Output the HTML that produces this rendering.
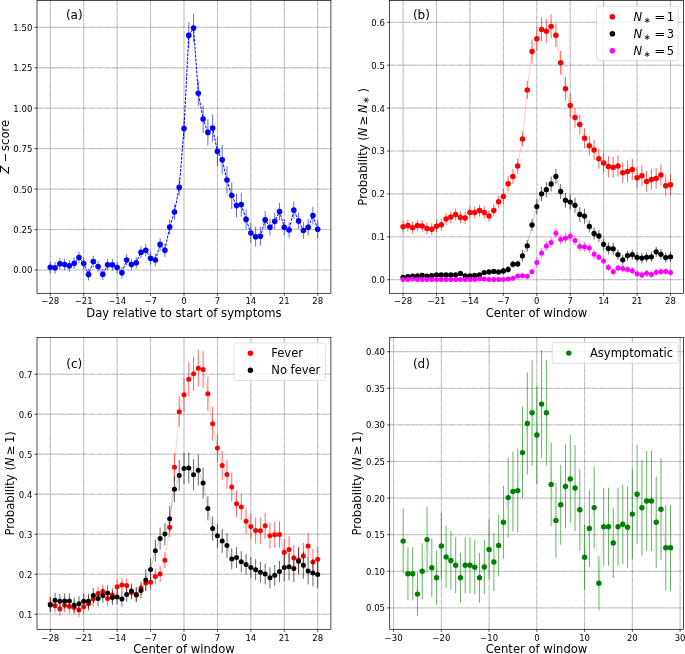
<!DOCTYPE html>
<html><head><meta charset="utf-8"><title>Figure</title>
<style>html,body{margin:0;padding:0;background:#fff}svg{display:block}</style></head>
<body>
<svg width="685" height="654" viewBox="0 0 685 654" font-family="'DejaVu Sans','Liberation Sans',sans-serif" fill="#000">
<rect width="685" height="654" fill="#fff"/>
<defs>
<clipPath id="ca"><rect x="37.0" y="0.4" width="293.9" height="292.90000000000003"/></clipPath>
<clipPath id="cb"><rect x="389.6" y="0.4" width="293.79999999999995" height="292.90000000000003"/></clipPath>
<clipPath id="cc"><rect x="37.0" y="337.4" width="293.9" height="291.9"/></clipPath>
<clipPath id="cd"><rect x="389.7" y="337.4" width="293.7" height="291.9"/></clipPath>
</defs>
<path d="M50.30 0.40V293.30M83.72 0.40V293.30M117.15 0.40V293.30M150.57 0.40V293.30M184.00 0.40V293.30M217.43 0.40V293.30M250.85 0.40V293.30M284.27 0.40V293.30M317.70 0.40V293.30M37.00 270.00H330.90M37.00 229.55H330.90M37.00 189.10H330.90M37.00 148.65H330.90M37.00 108.20H330.90M37.00 67.75H330.90M37.00 27.30H330.90" stroke="#606060" stroke-width="0.5" stroke-opacity="0.62" fill="none"/>
<path d="M50.30 0.40V293.30M83.72 0.40V293.30M117.15 0.40V293.30M150.57 0.40V293.30M184.00 0.40V293.30M217.43 0.40V293.30M250.85 0.40V293.30M284.27 0.40V293.30M317.70 0.40V293.30M37.00 270.00H330.90M37.00 229.55H330.90M37.00 189.10H330.90M37.00 148.65H330.90M37.00 108.20H330.90M37.00 67.75H330.90M37.00 27.30H330.90" stroke="#606060" stroke-width="0.5" stroke-opacity="0.38" stroke-dasharray="5.4 2.1" fill="none"/>
<g clip-path="url(#ca)">
<path d="M50.30 261.50V273.10M55.07 262.00V273.60M59.85 257.90V269.50M64.62 258.70V270.30M69.40 260.00V271.60M74.17 257.40V269.00M78.95 251.70V263.30M83.72 257.70V269.30M88.50 268.80V280.40M93.27 255.70V267.30M98.05 260.70V272.30M102.82 268.50V280.10M107.60 259.00V270.60M112.38 259.00V270.60M117.15 261.70V273.30M121.92 267.00V278.60M126.70 254.20V265.80M131.47 258.70V270.30M136.25 256.90V268.50M141.03 246.40V258.00M145.80 243.90V256.50M150.57 251.90V264.50M155.35 253.70V266.30M160.12 238.10V250.70M164.90 243.40V257.00M169.68 219.60V234.60M174.45 204.20V219.80M179.22 179.10V195.70M184.00 119.10V138.10M188.78 22.10V48.70M193.55 13.80V42.40M198.32 80.70V105.70M203.10 105.30V132.90M207.88 119.20V145.60M212.65 114.30V141.90M217.43 136.70V166.10M222.20 145.10V174.30M226.97 166.20V193.80M231.75 182.10V208.90M236.53 193.70V217.50M241.30 192.70V216.50M246.07 209.10V229.70M250.85 223.00V243.00M255.62 226.70V246.70M260.40 226.70V245.70M265.18 211.10V228.70M269.95 219.00V235.40M274.73 212.80V229.60M279.50 202.80V220.40M284.27 219.20V235.20M289.05 222.20V237.80M293.82 201.60V218.60M298.60 212.70V229.10M303.38 222.10V238.90M308.15 219.00V235.40M312.93 206.80V224.40M317.70 220.20V238.20" stroke="#0000ff" stroke-width="1" stroke-opacity="0.6" fill="none"/>
<polyline points="50.30,267.30 55.07,267.80 59.85,263.70 64.62,264.50 69.40,265.80 74.17,263.20 78.95,257.50 83.72,263.50 88.50,274.60 93.27,261.50 98.05,266.50 102.82,274.30 107.60,264.80 112.38,264.80 117.15,267.50 121.92,272.80 126.70,260.00 131.47,264.50 136.25,262.70 141.03,252.20 145.80,250.20 150.57,258.20 155.35,260.00 160.12,244.40 164.90,250.20 169.68,227.10 174.45,212.00 179.22,187.40 184.00,128.60 188.78,35.40 193.55,28.10 198.32,93.20 203.10,119.10 207.88,132.40 212.65,128.10 217.43,151.40 222.20,159.70 226.97,180.00 231.75,195.50 236.53,205.60 241.30,204.60 246.07,219.40 250.85,233.00 255.62,236.70 260.40,236.20 265.18,219.90 269.95,227.20 274.73,221.20 279.50,211.60 284.27,227.20 289.05,230.00 293.82,210.10 298.60,220.90 303.38,230.50 308.15,227.20 312.93,215.60 317.70,229.20" stroke="#0000ff" stroke-width="1.0" stroke-dasharray="2.8 1.2" fill="none"/>
<g fill="#0000ff">
<circle cx="50.30" cy="267.30" r="2.8"/>
<circle cx="55.07" cy="267.80" r="2.8"/>
<circle cx="59.85" cy="263.70" r="2.8"/>
<circle cx="64.62" cy="264.50" r="2.8"/>
<circle cx="69.40" cy="265.80" r="2.8"/>
<circle cx="74.17" cy="263.20" r="2.8"/>
<circle cx="78.95" cy="257.50" r="2.8"/>
<circle cx="83.72" cy="263.50" r="2.8"/>
<circle cx="88.50" cy="274.60" r="2.8"/>
<circle cx="93.27" cy="261.50" r="2.8"/>
<circle cx="98.05" cy="266.50" r="2.8"/>
<circle cx="102.82" cy="274.30" r="2.8"/>
<circle cx="107.60" cy="264.80" r="2.8"/>
<circle cx="112.38" cy="264.80" r="2.8"/>
<circle cx="117.15" cy="267.50" r="2.8"/>
<circle cx="121.92" cy="272.80" r="2.8"/>
<circle cx="126.70" cy="260.00" r="2.8"/>
<circle cx="131.47" cy="264.50" r="2.8"/>
<circle cx="136.25" cy="262.70" r="2.8"/>
<circle cx="141.03" cy="252.20" r="2.8"/>
<circle cx="145.80" cy="250.20" r="2.8"/>
<circle cx="150.57" cy="258.20" r="2.8"/>
<circle cx="155.35" cy="260.00" r="2.8"/>
<circle cx="160.12" cy="244.40" r="2.8"/>
<circle cx="164.90" cy="250.20" r="2.8"/>
<circle cx="169.68" cy="227.10" r="2.8"/>
<circle cx="174.45" cy="212.00" r="2.8"/>
<circle cx="179.22" cy="187.40" r="2.8"/>
<circle cx="184.00" cy="128.60" r="2.8"/>
<circle cx="188.78" cy="35.40" r="2.8"/>
<circle cx="193.55" cy="28.10" r="2.8"/>
<circle cx="198.32" cy="93.20" r="2.8"/>
<circle cx="203.10" cy="119.10" r="2.8"/>
<circle cx="207.88" cy="132.40" r="2.8"/>
<circle cx="212.65" cy="128.10" r="2.8"/>
<circle cx="217.43" cy="151.40" r="2.8"/>
<circle cx="222.20" cy="159.70" r="2.8"/>
<circle cx="226.97" cy="180.00" r="2.8"/>
<circle cx="231.75" cy="195.50" r="2.8"/>
<circle cx="236.53" cy="205.60" r="2.8"/>
<circle cx="241.30" cy="204.60" r="2.8"/>
<circle cx="246.07" cy="219.40" r="2.8"/>
<circle cx="250.85" cy="233.00" r="2.8"/>
<circle cx="255.62" cy="236.70" r="2.8"/>
<circle cx="260.40" cy="236.20" r="2.8"/>
<circle cx="265.18" cy="219.90" r="2.8"/>
<circle cx="269.95" cy="227.20" r="2.8"/>
<circle cx="274.73" cy="221.20" r="2.8"/>
<circle cx="279.50" cy="211.60" r="2.8"/>
<circle cx="284.27" cy="227.20" r="2.8"/>
<circle cx="289.05" cy="230.00" r="2.8"/>
<circle cx="293.82" cy="210.10" r="2.8"/>
<circle cx="298.60" cy="220.90" r="2.8"/>
<circle cx="303.38" cy="230.50" r="2.8"/>
<circle cx="308.15" cy="227.20" r="2.8"/>
<circle cx="312.93" cy="215.60" r="2.8"/>
<circle cx="317.70" cy="229.20" r="2.8"/>
</g></g>
<path d="M50.30 293.30v2.5M83.72 293.30v2.5M117.15 293.30v2.5M150.57 293.30v2.5M184.00 293.30v2.5M217.43 293.30v2.5M250.85 293.30v2.5M284.27 293.30v2.5M317.70 293.30v2.5M37.00 270.00h-2.5M37.00 229.55h-2.5M37.00 189.10h-2.5M37.00 148.65h-2.5M37.00 108.20h-2.5M37.00 67.75h-2.5M37.00 27.30h-2.5" stroke="#000" stroke-width="0.7" fill="none"/>
<rect x="37.00" y="0.40" width="293.90" height="292.90" stroke="#000" stroke-width="0.7" fill="none"/>
<g font-size="8.5" text-anchor="middle">
<text x="50.30" y="304.10">−28</text>
<text x="83.72" y="304.10">−21</text>
<text x="117.15" y="304.10">−14</text>
<text x="150.57" y="304.10">−7</text>
<text x="184.00" y="304.10">0</text>
<text x="217.43" y="304.10">7</text>
<text x="250.85" y="304.10">14</text>
<text x="284.27" y="304.10">21</text>
<text x="317.70" y="304.10">28</text>
</g>
<g font-size="8.5" text-anchor="end">
<text x="32.30" y="273.40">0.00</text>
<text x="32.30" y="232.95">0.25</text>
<text x="32.30" y="192.50">0.50</text>
<text x="32.30" y="152.05">0.75</text>
<text x="32.30" y="111.60">1.00</text>
<text x="32.30" y="71.15">1.25</text>
<text x="32.30" y="30.70">1.50</text>
</g>
<text x="183.95" y="316.90" font-size="11.6" text-anchor="middle">Day relative to start of symptoms</text>
<text transform="translate(9.30 146.85) rotate(-90)" font-size="11.6" text-anchor="middle"><tspan font-style="italic">Z</tspan> −<tspan dx="-2.2"> score</tspan></text>
<text x="74.30" y="19.30" font-size="12" text-anchor="middle">(a)</text>
<path d="M403.10 0.40V293.30M436.52 0.40V293.30M469.95 0.40V293.30M503.37 0.40V293.30M536.80 0.40V293.30M570.22 0.40V293.30M603.65 0.40V293.30M637.07 0.40V293.30M670.50 0.40V293.30M389.60 279.70H683.40M389.60 236.80H683.40M389.60 193.90H683.40M389.60 151.00H683.40M389.60 108.10H683.40M389.60 65.20H683.40M389.60 22.30H683.40" stroke="#606060" stroke-width="0.5" stroke-opacity="0.62" fill="none"/>
<path d="M403.10 0.40V293.30M436.52 0.40V293.30M469.95 0.40V293.30M503.37 0.40V293.30M536.80 0.40V293.30M570.22 0.40V293.30M603.65 0.40V293.30M637.07 0.40V293.30M670.50 0.40V293.30M389.60 279.70H683.40M389.60 236.80H683.40M389.60 193.90H683.40M389.60 151.00H683.40M389.60 108.10H683.40M389.60 65.20H683.40M389.60 22.30H683.40" stroke="#606060" stroke-width="0.5" stroke-opacity="0.38" stroke-dasharray="5.4 2.1" fill="none"/>
<g clip-path="url(#cb)">
<path d="M403.10 220.70V232.70M407.87 219.40V231.40M412.65 221.70V233.70M417.42 219.40V231.40M422.20 219.90V231.90M426.97 222.40V234.40M431.75 223.20V235.20M436.52 220.20V232.20M441.30 218.70V230.70M446.07 213.10V225.10M450.85 211.10V223.10M455.62 208.40V220.40M460.40 211.40V223.40M465.17 211.90V223.90M469.95 206.60V218.60M474.72 206.60V218.60M479.50 204.60V216.60M484.27 206.40V218.40M489.05 210.10V222.10M493.82 204.40V216.40M498.60 195.80V207.80M503.37 189.00V204.00M508.15 176.20V191.20M512.92 168.90V183.90M517.70 158.40V173.40M522.47 131.40V146.40M527.25 80.90V98.90M532.02 39.50V63.50M536.80 26.70V50.70M541.57 17.60V41.60M546.35 19.20V43.20M551.12 14.40V38.40M555.90 23.20V47.20M560.67 50.80V74.80M565.45 76.70V100.70M570.22 93.50V117.50M575.00 107.60V127.60M579.77 114.40V134.40M584.55 128.20V148.20M589.32 135.70V155.70M594.10 140.00V160.00M598.88 148.80V168.80M603.65 153.10V173.10M608.42 156.10V177.10M613.20 157.10V178.10M617.97 155.40V176.40M622.75 162.20V183.20M627.52 160.90V181.90M632.30 158.90V179.90M637.07 167.20V188.20M641.85 165.20V186.20M646.62 171.00V192.00M651.40 168.90V189.90M656.17 167.90V188.90M660.95 164.40V185.40M665.72 175.20V196.20M670.50 174.20V195.20" stroke="#ff0000" stroke-width="0.65" stroke-opacity="0.95" fill="none"/>
<polyline points="403.10,226.70 407.87,225.40 412.65,227.70 417.42,225.40 422.20,225.90 426.97,228.40 431.75,229.20 436.52,226.20 441.30,224.70 446.07,219.10 450.85,217.10 455.62,214.40 460.40,217.40 465.17,217.90 469.95,212.60 474.72,212.60 479.50,210.60 484.27,212.40 489.05,216.10 493.82,210.40 498.60,201.80 503.37,196.50 508.15,183.70 512.92,176.40 517.70,165.90 522.47,138.90 527.25,89.90 532.02,51.50 536.80,38.70 541.57,29.60 546.35,31.20 551.12,26.40 555.90,35.20 560.67,62.80 565.45,88.70 570.22,105.50 575.00,117.60 579.77,124.40 584.55,138.20 589.32,145.70 594.10,150.00 598.88,158.80 603.65,163.10 608.42,166.60 613.20,167.60 617.97,165.90 622.75,172.70 627.52,171.40 632.30,169.40 637.07,177.70 641.85,175.70 646.62,181.50 651.40,179.40 656.17,178.40 660.95,174.90 665.72,185.70 670.50,184.70" stroke="#ff0000" stroke-width="0.3" stroke-opacity="0.7" fill="none"/>
<g fill="#ff0000">
<circle cx="403.10" cy="226.70" r="2.75"/>
<circle cx="407.87" cy="225.40" r="2.75"/>
<circle cx="412.65" cy="227.70" r="2.75"/>
<circle cx="417.42" cy="225.40" r="2.75"/>
<circle cx="422.20" cy="225.90" r="2.75"/>
<circle cx="426.97" cy="228.40" r="2.75"/>
<circle cx="431.75" cy="229.20" r="2.75"/>
<circle cx="436.52" cy="226.20" r="2.75"/>
<circle cx="441.30" cy="224.70" r="2.75"/>
<circle cx="446.07" cy="219.10" r="2.75"/>
<circle cx="450.85" cy="217.10" r="2.75"/>
<circle cx="455.62" cy="214.40" r="2.75"/>
<circle cx="460.40" cy="217.40" r="2.75"/>
<circle cx="465.17" cy="217.90" r="2.75"/>
<circle cx="469.95" cy="212.60" r="2.75"/>
<circle cx="474.72" cy="212.60" r="2.75"/>
<circle cx="479.50" cy="210.60" r="2.75"/>
<circle cx="484.27" cy="212.40" r="2.75"/>
<circle cx="489.05" cy="216.10" r="2.75"/>
<circle cx="493.82" cy="210.40" r="2.75"/>
<circle cx="498.60" cy="201.80" r="2.75"/>
<circle cx="503.37" cy="196.50" r="2.75"/>
<circle cx="508.15" cy="183.70" r="2.75"/>
<circle cx="512.92" cy="176.40" r="2.75"/>
<circle cx="517.70" cy="165.90" r="2.75"/>
<circle cx="522.47" cy="138.90" r="2.75"/>
<circle cx="527.25" cy="89.90" r="2.75"/>
<circle cx="532.02" cy="51.50" r="2.75"/>
<circle cx="536.80" cy="38.70" r="2.75"/>
<circle cx="541.57" cy="29.60" r="2.75"/>
<circle cx="546.35" cy="31.20" r="2.75"/>
<circle cx="551.12" cy="26.40" r="2.75"/>
<circle cx="555.90" cy="35.20" r="2.75"/>
<circle cx="560.67" cy="62.80" r="2.75"/>
<circle cx="565.45" cy="88.70" r="2.75"/>
<circle cx="570.22" cy="105.50" r="2.75"/>
<circle cx="575.00" cy="117.60" r="2.75"/>
<circle cx="579.77" cy="124.40" r="2.75"/>
<circle cx="584.55" cy="138.20" r="2.75"/>
<circle cx="589.32" cy="145.70" r="2.75"/>
<circle cx="594.10" cy="150.00" r="2.75"/>
<circle cx="598.88" cy="158.80" r="2.75"/>
<circle cx="603.65" cy="163.10" r="2.75"/>
<circle cx="608.42" cy="166.60" r="2.75"/>
<circle cx="613.20" cy="167.60" r="2.75"/>
<circle cx="617.97" cy="165.90" r="2.75"/>
<circle cx="622.75" cy="172.70" r="2.75"/>
<circle cx="627.52" cy="171.40" r="2.75"/>
<circle cx="632.30" cy="169.40" r="2.75"/>
<circle cx="637.07" cy="177.70" r="2.75"/>
<circle cx="641.85" cy="175.70" r="2.75"/>
<circle cx="646.62" cy="181.50" r="2.75"/>
<circle cx="651.40" cy="179.40" r="2.75"/>
<circle cx="656.17" cy="178.40" r="2.75"/>
<circle cx="660.95" cy="174.90" r="2.75"/>
<circle cx="665.72" cy="185.70" r="2.75"/>
<circle cx="670.50" cy="184.70" r="2.75"/>
</g></g>
<g clip-path="url(#cb)">
<path d="M403.10 275.30V279.30M407.87 274.60V278.60M412.65 274.10V278.10M417.42 273.90V277.90M422.20 273.40V277.40M426.97 274.10V278.10M431.75 273.70V277.70M436.52 273.00V277.00M441.30 273.00V277.00M446.07 273.00V277.00M450.85 273.00V277.00M455.62 272.80V276.80M460.40 271.40V275.40M465.17 273.90V277.90M469.95 273.90V277.90M474.72 273.50V277.50M479.50 273.00V277.00M484.27 270.60V274.60M489.05 270.00V274.00M493.82 269.50V273.50M498.60 270.00V274.00M503.37 267.50V274.50M508.15 265.90V272.90M512.92 260.70V267.70M517.70 260.40V267.40M522.47 249.80V261.80M527.25 239.80V251.80M532.02 218.90V230.90M536.80 199.10V214.10M541.57 186.30V201.30M546.35 182.20V197.20M551.12 176.50V191.50M555.90 168.90V183.90M560.67 184.00V199.00M565.45 192.80V207.80M570.22 194.60V209.60M575.00 197.80V212.80M579.77 206.90V221.90M584.55 208.60V223.60M589.32 220.40V232.40M594.10 227.50V239.50M598.88 230.00V242.00M603.65 238.30V250.30M608.42 242.50V254.50M613.20 242.80V254.80M617.97 249.60V259.60M622.75 254.80V264.80M627.52 250.60V260.60M632.30 249.60V259.60M637.07 252.30V262.30M641.85 253.10V263.10M646.62 252.30V262.30M651.40 251.80V261.80M656.17 246.80V256.80M660.95 249.30V259.30M665.72 252.60V262.60M670.50 251.80V261.80" stroke="#000000" stroke-width="0.65" stroke-opacity="0.95" fill="none"/>
<polyline points="403.10,277.30 407.87,276.60 412.65,276.10 417.42,275.90 422.20,275.40 426.97,276.10 431.75,275.70 436.52,275.00 441.30,275.00 446.07,275.00 450.85,275.00 455.62,274.80 460.40,273.40 465.17,275.90 469.95,275.90 474.72,275.50 479.50,275.00 484.27,272.60 489.05,272.00 493.82,271.50 498.60,272.00 503.37,271.00 508.15,269.40 512.92,264.20 517.70,263.90 522.47,255.80 527.25,245.80 532.02,224.90 536.80,206.60 541.57,193.80 546.35,189.70 551.12,184.00 555.90,176.40 560.67,191.50 565.45,200.30 570.22,202.10 575.00,205.30 579.77,214.40 584.55,216.10 589.32,226.40 594.10,233.50 598.88,236.00 603.65,244.30 608.42,248.50 613.20,248.80 617.97,254.60 622.75,259.80 627.52,255.60 632.30,254.60 637.07,257.30 641.85,258.10 646.62,257.30 651.40,256.80 656.17,251.80 660.95,254.30 665.72,257.60 670.50,256.80" stroke="#000000" stroke-width="0.3" stroke-opacity="0.7" fill="none"/>
<g fill="#000000">
<circle cx="403.10" cy="277.30" r="2.65"/>
<circle cx="407.87" cy="276.60" r="2.65"/>
<circle cx="412.65" cy="276.10" r="2.65"/>
<circle cx="417.42" cy="275.90" r="2.65"/>
<circle cx="422.20" cy="275.40" r="2.65"/>
<circle cx="426.97" cy="276.10" r="2.65"/>
<circle cx="431.75" cy="275.70" r="2.65"/>
<circle cx="436.52" cy="275.00" r="2.65"/>
<circle cx="441.30" cy="275.00" r="2.65"/>
<circle cx="446.07" cy="275.00" r="2.65"/>
<circle cx="450.85" cy="275.00" r="2.65"/>
<circle cx="455.62" cy="274.80" r="2.65"/>
<circle cx="460.40" cy="273.40" r="2.65"/>
<circle cx="465.17" cy="275.90" r="2.65"/>
<circle cx="469.95" cy="275.90" r="2.65"/>
<circle cx="474.72" cy="275.50" r="2.65"/>
<circle cx="479.50" cy="275.00" r="2.65"/>
<circle cx="484.27" cy="272.60" r="2.65"/>
<circle cx="489.05" cy="272.00" r="2.65"/>
<circle cx="493.82" cy="271.50" r="2.65"/>
<circle cx="498.60" cy="272.00" r="2.65"/>
<circle cx="503.37" cy="271.00" r="2.65"/>
<circle cx="508.15" cy="269.40" r="2.65"/>
<circle cx="512.92" cy="264.20" r="2.65"/>
<circle cx="517.70" cy="263.90" r="2.65"/>
<circle cx="522.47" cy="255.80" r="2.65"/>
<circle cx="527.25" cy="245.80" r="2.65"/>
<circle cx="532.02" cy="224.90" r="2.65"/>
<circle cx="536.80" cy="206.60" r="2.65"/>
<circle cx="541.57" cy="193.80" r="2.65"/>
<circle cx="546.35" cy="189.70" r="2.65"/>
<circle cx="551.12" cy="184.00" r="2.65"/>
<circle cx="555.90" cy="176.40" r="2.65"/>
<circle cx="560.67" cy="191.50" r="2.65"/>
<circle cx="565.45" cy="200.30" r="2.65"/>
<circle cx="570.22" cy="202.10" r="2.65"/>
<circle cx="575.00" cy="205.30" r="2.65"/>
<circle cx="579.77" cy="214.40" r="2.65"/>
<circle cx="584.55" cy="216.10" r="2.65"/>
<circle cx="589.32" cy="226.40" r="2.65"/>
<circle cx="594.10" cy="233.50" r="2.65"/>
<circle cx="598.88" cy="236.00" r="2.65"/>
<circle cx="603.65" cy="244.30" r="2.65"/>
<circle cx="608.42" cy="248.50" r="2.65"/>
<circle cx="613.20" cy="248.80" r="2.65"/>
<circle cx="617.97" cy="254.60" r="2.65"/>
<circle cx="622.75" cy="259.80" r="2.65"/>
<circle cx="627.52" cy="255.60" r="2.65"/>
<circle cx="632.30" cy="254.60" r="2.65"/>
<circle cx="637.07" cy="257.30" r="2.65"/>
<circle cx="641.85" cy="258.10" r="2.65"/>
<circle cx="646.62" cy="257.30" r="2.65"/>
<circle cx="651.40" cy="256.80" r="2.65"/>
<circle cx="656.17" cy="251.80" r="2.65"/>
<circle cx="660.95" cy="254.30" r="2.65"/>
<circle cx="665.72" cy="257.60" r="2.65"/>
<circle cx="670.50" cy="256.80" r="2.65"/>
</g></g>
<g clip-path="url(#cb)">
<path d="M403.10 278.40V280.80M407.87 278.40V280.80M412.65 277.90V280.30M417.42 278.40V280.80M422.20 278.40V280.80M426.97 278.40V280.80M431.75 278.40V280.80M436.52 278.40V280.80M441.30 278.40V280.80M446.07 278.40V280.80M450.85 278.40V280.80M455.62 278.40V280.80M460.40 278.40V280.80M465.17 278.40V280.80M469.95 278.40V280.80M474.72 278.20V280.60M479.50 277.50V279.90M484.27 277.80V280.20M489.05 278.40V280.80M493.82 278.40V280.80M498.60 278.40V280.80M503.37 278.40V280.80M508.15 277.80V280.20M512.92 275.70V280.70M517.70 273.40V278.40M522.47 273.20V278.20M527.25 273.70V278.70M532.02 269.20V274.20M536.80 257.60V267.60M541.57 248.10V258.10M546.35 241.00V251.00M551.12 237.50V247.50M555.90 228.20V238.20M560.67 234.50V244.50M565.45 233.20V243.20M570.22 231.20V241.20M575.00 235.50V245.50M579.77 241.50V251.50M584.55 241.80V251.80M589.32 243.00V253.00M594.10 249.30V259.30M598.88 253.80V260.80M603.65 257.40V264.40M608.42 263.90V270.90M613.20 268.20V275.20M617.97 264.60V271.60M622.75 264.90V271.90M627.52 266.10V273.10M632.30 267.20V274.20M637.07 270.20V277.20M641.85 271.40V278.40M646.62 269.70V276.70M651.40 270.90V277.90M656.17 268.70V275.70M660.95 268.20V275.20M665.72 267.90V274.90M670.50 268.90V275.90" stroke="#ff00ff" stroke-width="0.65" stroke-opacity="0.95" fill="none"/>
<polyline points="403.10,279.60 407.87,279.60 412.65,279.10 417.42,279.60 422.20,279.60 426.97,279.60 431.75,279.60 436.52,279.60 441.30,279.60 446.07,279.60 450.85,279.60 455.62,279.60 460.40,279.60 465.17,279.60 469.95,279.60 474.72,279.40 479.50,278.70 484.27,279.00 489.05,279.60 493.82,279.60 498.60,279.60 503.37,279.60 508.15,279.00 512.92,278.20 517.70,275.90 522.47,275.70 527.25,276.20 532.02,271.70 536.80,262.60 541.57,253.10 546.35,246.00 551.12,242.50 555.90,233.20 560.67,239.50 565.45,238.20 570.22,236.20 575.00,240.50 579.77,246.50 584.55,246.80 589.32,248.00 594.10,254.30 598.88,257.30 603.65,260.90 608.42,267.40 613.20,271.70 617.97,268.10 622.75,268.40 627.52,269.60 632.30,270.70 637.07,273.70 641.85,274.90 646.62,273.20 651.40,274.40 656.17,272.20 660.95,271.70 665.72,271.40 670.50,272.40" stroke="#ff00ff" stroke-width="0.3" stroke-opacity="0.7" fill="none"/>
<g fill="#ff00ff">
<circle cx="403.10" cy="279.60" r="2.5"/>
<circle cx="407.87" cy="279.60" r="2.5"/>
<circle cx="412.65" cy="279.10" r="2.5"/>
<circle cx="417.42" cy="279.60" r="2.5"/>
<circle cx="422.20" cy="279.60" r="2.5"/>
<circle cx="426.97" cy="279.60" r="2.5"/>
<circle cx="431.75" cy="279.60" r="2.5"/>
<circle cx="436.52" cy="279.60" r="2.5"/>
<circle cx="441.30" cy="279.60" r="2.5"/>
<circle cx="446.07" cy="279.60" r="2.5"/>
<circle cx="450.85" cy="279.60" r="2.5"/>
<circle cx="455.62" cy="279.60" r="2.5"/>
<circle cx="460.40" cy="279.60" r="2.5"/>
<circle cx="465.17" cy="279.60" r="2.5"/>
<circle cx="469.95" cy="279.60" r="2.5"/>
<circle cx="474.72" cy="279.40" r="2.5"/>
<circle cx="479.50" cy="278.70" r="2.5"/>
<circle cx="484.27" cy="279.00" r="2.5"/>
<circle cx="489.05" cy="279.60" r="2.5"/>
<circle cx="493.82" cy="279.60" r="2.5"/>
<circle cx="498.60" cy="279.60" r="2.5"/>
<circle cx="503.37" cy="279.60" r="2.5"/>
<circle cx="508.15" cy="279.00" r="2.5"/>
<circle cx="512.92" cy="278.20" r="2.5"/>
<circle cx="517.70" cy="275.90" r="2.5"/>
<circle cx="522.47" cy="275.70" r="2.5"/>
<circle cx="527.25" cy="276.20" r="2.5"/>
<circle cx="532.02" cy="271.70" r="2.5"/>
<circle cx="536.80" cy="262.60" r="2.5"/>
<circle cx="541.57" cy="253.10" r="2.5"/>
<circle cx="546.35" cy="246.00" r="2.5"/>
<circle cx="551.12" cy="242.50" r="2.5"/>
<circle cx="555.90" cy="233.20" r="2.5"/>
<circle cx="560.67" cy="239.50" r="2.5"/>
<circle cx="565.45" cy="238.20" r="2.5"/>
<circle cx="570.22" cy="236.20" r="2.5"/>
<circle cx="575.00" cy="240.50" r="2.5"/>
<circle cx="579.77" cy="246.50" r="2.5"/>
<circle cx="584.55" cy="246.80" r="2.5"/>
<circle cx="589.32" cy="248.00" r="2.5"/>
<circle cx="594.10" cy="254.30" r="2.5"/>
<circle cx="598.88" cy="257.30" r="2.5"/>
<circle cx="603.65" cy="260.90" r="2.5"/>
<circle cx="608.42" cy="267.40" r="2.5"/>
<circle cx="613.20" cy="271.70" r="2.5"/>
<circle cx="617.97" cy="268.10" r="2.5"/>
<circle cx="622.75" cy="268.40" r="2.5"/>
<circle cx="627.52" cy="269.60" r="2.5"/>
<circle cx="632.30" cy="270.70" r="2.5"/>
<circle cx="637.07" cy="273.70" r="2.5"/>
<circle cx="641.85" cy="274.90" r="2.5"/>
<circle cx="646.62" cy="273.20" r="2.5"/>
<circle cx="651.40" cy="274.40" r="2.5"/>
<circle cx="656.17" cy="272.20" r="2.5"/>
<circle cx="660.95" cy="271.70" r="2.5"/>
<circle cx="665.72" cy="271.40" r="2.5"/>
<circle cx="670.50" cy="272.40" r="2.5"/>
</g></g>
<path d="M403.10 293.30v2.5M436.52 293.30v2.5M469.95 293.30v2.5M503.37 293.30v2.5M536.80 293.30v2.5M570.22 293.30v2.5M603.65 293.30v2.5M637.07 293.30v2.5M670.50 293.30v2.5M389.60 279.70h-2.5M389.60 236.80h-2.5M389.60 193.90h-2.5M389.60 151.00h-2.5M389.60 108.10h-2.5M389.60 65.20h-2.5M389.60 22.30h-2.5" stroke="#000" stroke-width="0.7" fill="none"/>
<rect x="389.60" y="0.40" width="293.80" height="292.90" stroke="#000" stroke-width="0.7" fill="none"/>
<g font-size="8.5" text-anchor="middle">
<text x="403.10" y="304.10">−28</text>
<text x="436.52" y="304.10">−21</text>
<text x="469.95" y="304.10">−14</text>
<text x="503.37" y="304.10">−7</text>
<text x="536.80" y="304.10">0</text>
<text x="570.22" y="304.10">7</text>
<text x="603.65" y="304.10">14</text>
<text x="637.07" y="304.10">21</text>
<text x="670.50" y="304.10">28</text>
</g>
<g font-size="8.5" text-anchor="end">
<text x="384.90" y="283.10">0.0</text>
<text x="384.90" y="240.20">0.1</text>
<text x="384.90" y="197.30">0.2</text>
<text x="384.90" y="154.40">0.3</text>
<text x="384.90" y="111.50">0.4</text>
<text x="384.90" y="68.60">0.5</text>
<text x="384.90" y="25.70">0.6</text>
</g>
<text x="536.50" y="316.90" font-size="11.6" text-anchor="middle">Center of window</text>
<text transform="translate(366.60 146.85) rotate(-90)" font-size="11.6" text-anchor="middle">Probability (<tspan font-style="italic">N</tspan> ≥ <tspan font-style="italic">N</tspan><tspan font-size="9" dy="2.6" dx="0.6">∗</tspan><tspan dy="-2.6"> )</tspan></text>
<text x="421.40" y="19.30" font-size="12" text-anchor="middle">(b)</text>
<rect x="596.50" y="6.20" width="81.60" height="54.40" rx="2.4" fill="#fff" fill-opacity="0.8" stroke="#ccc" stroke-opacity="0.8" stroke-width="0.8"/>
<circle cx="612.40" cy="16.80" r="2.8" fill="#ff0000"/>
<text x="633.40" y="20.95" font-size="11.5"><tspan font-style="italic">N</tspan><tspan font-size="8.6" dy="2.5" dx="1.5">∗</tspan><tspan dy="-2.5" dx="3.6" textLength="11.1" lengthAdjust="spacingAndGlyphs">=</tspan><tspan dx="1.4">1</tspan></text>
<circle cx="612.40" cy="33.80" r="2.8" fill="#000"/>
<text x="633.40" y="37.95" font-size="11.5"><tspan font-style="italic">N</tspan><tspan font-size="8.6" dy="2.5" dx="1.5">∗</tspan><tspan dy="-2.5" dx="3.6" textLength="11.1" lengthAdjust="spacingAndGlyphs">=</tspan><tspan dx="1.4">3</tspan></text>
<circle cx="612.40" cy="50.80" r="2.8" fill="#ff00ff"/>
<text x="633.40" y="54.95" font-size="11.5"><tspan font-style="italic">N</tspan><tspan font-size="8.6" dy="2.5" dx="1.5">∗</tspan><tspan dy="-2.5" dx="3.6" textLength="11.1" lengthAdjust="spacingAndGlyphs">=</tspan><tspan dx="1.4">5</tspan></text>
<path d="M50.30 337.40V629.30M83.72 337.40V629.30M117.15 337.40V629.30M150.57 337.40V629.30M184.00 337.40V629.30M217.43 337.40V629.30M250.85 337.40V629.30M284.27 337.40V629.30M317.70 337.40V629.30M37.00 614.20H330.90M37.00 574.20H330.90M37.00 534.20H330.90M37.00 494.20H330.90M37.00 454.20H330.90M37.00 414.20H330.90M37.00 374.20H330.90" stroke="#606060" stroke-width="0.5" stroke-opacity="0.62" fill="none"/>
<path d="M50.30 337.40V629.30M83.72 337.40V629.30M117.15 337.40V629.30M150.57 337.40V629.30M184.00 337.40V629.30M217.43 337.40V629.30M250.85 337.40V629.30M284.27 337.40V629.30M317.70 337.40V629.30M37.00 614.20H330.90M37.00 574.20H330.90M37.00 534.20H330.90M37.00 494.20H330.90M37.00 454.20H330.90M37.00 414.20H330.90M37.00 374.20H330.90" stroke="#606060" stroke-width="0.5" stroke-opacity="0.38" stroke-dasharray="5.4 2.1" fill="none"/>
<g clip-path="url(#cc)">
<path d="M50.30 596.90V610.90M55.07 598.70V612.70M59.85 601.90V615.90M64.62 598.20V612.20M69.40 599.40V613.40M74.17 600.40V614.40M78.95 602.90V616.90M83.72 599.70V613.70M88.50 596.70V610.70M93.27 592.10V606.10M98.05 586.60V600.60M102.82 584.60V598.60M107.60 591.60V605.60M112.38 587.90V601.90M117.15 579.80V593.80M121.92 578.10V592.10M126.70 578.60V592.60M131.47 585.40V599.40M136.25 587.90V601.90M141.03 581.10V595.10M145.80 576.10V590.10M150.57 574.30V590.30M155.35 568.50V584.50M160.12 566.00V582.00M164.90 552.20V568.20M169.68 517.30V537.30M174.45 453.20V481.20M179.22 396.20V427.20M184.00 377.80V411.80M188.78 362.30V396.30M193.55 356.70V390.70M198.32 349.90V386.50M203.10 351.20V387.80M207.88 376.80V410.80M212.65 406.70V440.70M217.43 433.40V462.40M222.20 450.90V479.90M226.97 459.90V488.90M231.75 472.50V501.50M236.53 490.70V516.70M241.30 493.90V519.90M246.07 508.30V534.30M250.85 513.50V539.50M255.62 517.60V543.60M260.40 517.80V543.80M265.18 512.80V538.80M269.95 522.80V548.80M274.73 521.80V547.80M279.50 521.60V547.60M284.27 539.20V565.20M289.05 536.40V562.40M293.82 544.90V570.90M298.60 547.00V573.00M303.38 542.90V568.90M308.15 532.90V558.90M312.93 549.00V575.00M317.70 546.20V572.20" stroke="#ff0000" stroke-width="0.8" stroke-opacity="0.75" fill="none"/>
<polyline points="50.30,603.90 55.07,605.70 59.85,608.90 64.62,605.20 69.40,606.40 74.17,607.40 78.95,609.90 83.72,606.70 88.50,603.70 93.27,599.10 98.05,593.60 102.82,591.60 107.60,598.60 112.38,594.90 117.15,586.80 121.92,585.10 126.70,585.60 131.47,592.40 136.25,594.90 141.03,588.10 145.80,583.10 150.57,582.30 155.35,576.50 160.12,574.00 164.90,560.20 169.68,527.30 174.45,467.20 179.22,411.70 184.00,394.80 188.78,379.30 193.55,373.70 198.32,368.20 203.10,369.50 207.88,393.80 212.65,423.70 217.43,447.90 222.20,465.40 226.97,474.40 231.75,487.00 236.53,503.70 241.30,506.90 246.07,521.30 250.85,526.50 255.62,530.60 260.40,530.80 265.18,525.80 269.95,535.80 274.73,534.80 279.50,534.60 284.27,552.20 289.05,549.40 293.82,557.90 298.60,560.00 303.38,555.90 308.15,545.90 312.93,562.00 317.70,559.20" stroke="#ff0000" stroke-width="0.3" stroke-opacity="0.65" fill="none"/>
<g fill="#ff0000">
<circle cx="50.30" cy="603.90" r="2.5"/>
<circle cx="55.07" cy="605.70" r="2.5"/>
<circle cx="59.85" cy="608.90" r="2.5"/>
<circle cx="64.62" cy="605.20" r="2.5"/>
<circle cx="69.40" cy="606.40" r="2.5"/>
<circle cx="74.17" cy="607.40" r="2.5"/>
<circle cx="78.95" cy="609.90" r="2.5"/>
<circle cx="83.72" cy="606.70" r="2.5"/>
<circle cx="88.50" cy="603.70" r="2.5"/>
<circle cx="93.27" cy="599.10" r="2.5"/>
<circle cx="98.05" cy="593.60" r="2.5"/>
<circle cx="102.82" cy="591.60" r="2.5"/>
<circle cx="107.60" cy="598.60" r="2.5"/>
<circle cx="112.38" cy="594.90" r="2.5"/>
<circle cx="117.15" cy="586.80" r="2.5"/>
<circle cx="121.92" cy="585.10" r="2.5"/>
<circle cx="126.70" cy="585.60" r="2.5"/>
<circle cx="131.47" cy="592.40" r="2.5"/>
<circle cx="136.25" cy="594.90" r="2.5"/>
<circle cx="141.03" cy="588.10" r="2.5"/>
<circle cx="145.80" cy="583.10" r="2.5"/>
<circle cx="150.57" cy="582.30" r="2.5"/>
<circle cx="155.35" cy="576.50" r="2.5"/>
<circle cx="160.12" cy="574.00" r="2.5"/>
<circle cx="164.90" cy="560.20" r="2.5"/>
<circle cx="169.68" cy="527.30" r="2.5"/>
<circle cx="174.45" cy="467.20" r="2.5"/>
<circle cx="179.22" cy="411.70" r="2.5"/>
<circle cx="184.00" cy="394.80" r="2.5"/>
<circle cx="188.78" cy="379.30" r="2.5"/>
<circle cx="193.55" cy="373.70" r="2.5"/>
<circle cx="198.32" cy="368.20" r="2.5"/>
<circle cx="203.10" cy="369.50" r="2.5"/>
<circle cx="207.88" cy="393.80" r="2.5"/>
<circle cx="212.65" cy="423.70" r="2.5"/>
<circle cx="217.43" cy="447.90" r="2.5"/>
<circle cx="222.20" cy="465.40" r="2.5"/>
<circle cx="226.97" cy="474.40" r="2.5"/>
<circle cx="231.75" cy="487.00" r="2.5"/>
<circle cx="236.53" cy="503.70" r="2.5"/>
<circle cx="241.30" cy="506.90" r="2.5"/>
<circle cx="246.07" cy="521.30" r="2.5"/>
<circle cx="250.85" cy="526.50" r="2.5"/>
<circle cx="255.62" cy="530.60" r="2.5"/>
<circle cx="260.40" cy="530.80" r="2.5"/>
<circle cx="265.18" cy="525.80" r="2.5"/>
<circle cx="269.95" cy="535.80" r="2.5"/>
<circle cx="274.73" cy="534.80" r="2.5"/>
<circle cx="279.50" cy="534.60" r="2.5"/>
<circle cx="284.27" cy="552.20" r="2.5"/>
<circle cx="289.05" cy="549.40" r="2.5"/>
<circle cx="293.82" cy="557.90" r="2.5"/>
<circle cx="298.60" cy="560.00" r="2.5"/>
<circle cx="303.38" cy="555.90" r="2.5"/>
<circle cx="308.15" cy="545.90" r="2.5"/>
<circle cx="312.93" cy="562.00" r="2.5"/>
<circle cx="317.70" cy="559.20" r="2.5"/>
</g></g>
<g clip-path="url(#cc)">
<path d="M50.30 597.40V612.40M55.07 592.70V607.70M59.85 593.70V608.70M64.62 593.40V608.40M69.40 593.40V608.40M74.17 597.70V612.70M78.95 596.20V611.20M83.72 593.70V608.70M88.50 593.70V608.70M93.27 588.10V603.10M98.05 591.10V606.10M102.82 587.90V602.90M107.60 585.40V600.40M112.38 590.10V605.10M117.15 589.40V604.40M121.92 591.60V606.60M126.70 586.90V601.90M131.47 583.40V598.40M136.25 586.90V601.90M141.03 583.10V598.10M145.80 569.10V591.10M150.57 558.50V580.50M155.35 539.70V561.70M160.12 527.60V549.60M164.90 523.10V545.10M169.68 505.70V531.70M174.45 476.30V502.30M179.22 460.00V491.00M184.00 453.00V484.00M188.78 452.50V483.50M193.55 459.20V490.20M198.32 454.70V485.70M203.10 467.50V498.50M207.88 496.40V520.40M212.65 516.50V540.50M217.43 523.80V547.80M222.20 528.90V552.90M226.97 533.60V557.60M231.75 548.40V569.40M236.53 546.90V567.90M241.30 551.20V572.20M246.07 554.00V575.00M250.85 557.00V578.00M255.62 559.20V580.20M260.40 561.80V582.80M265.18 563.50V584.50M269.95 567.30V588.30M274.73 564.80V585.80M279.50 561.00V582.00M284.27 554.00V581.00M289.05 553.20V580.20M293.82 555.00V582.00M298.60 547.70V574.70M303.38 551.70V578.70M308.15 557.50V584.50M312.93 559.50V586.50M317.70 561.00V588.00" stroke="#000000" stroke-width="0.8" stroke-opacity="0.75" fill="none"/>
<polyline points="50.30,604.90 55.07,600.20 59.85,601.20 64.62,600.90 69.40,600.90 74.17,605.20 78.95,603.70 83.72,601.20 88.50,601.20 93.27,595.60 98.05,598.60 102.82,595.40 107.60,592.90 112.38,597.60 117.15,596.90 121.92,599.10 126.70,594.40 131.47,590.90 136.25,594.40 141.03,590.60 145.80,580.10 150.57,569.50 155.35,550.70 160.12,538.60 164.90,534.10 169.68,518.70 174.45,489.30 179.22,475.50 184.00,468.50 188.78,468.00 193.55,474.70 198.32,470.20 203.10,483.00 207.88,508.40 212.65,528.50 217.43,535.80 222.20,540.90 226.97,545.60 231.75,558.90 236.53,557.40 241.30,561.70 246.07,564.50 250.85,567.50 255.62,569.70 260.40,572.30 265.18,574.00 269.95,577.80 274.73,575.30 279.50,571.50 284.27,567.50 289.05,566.70 293.82,568.50 298.60,561.20 303.38,565.20 308.15,571.00 312.93,573.00 317.70,574.50" stroke="#000000" stroke-width="0.3" stroke-opacity="0.65" fill="none"/>
<g fill="#000000">
<circle cx="50.30" cy="604.90" r="2.5"/>
<circle cx="55.07" cy="600.20" r="2.5"/>
<circle cx="59.85" cy="601.20" r="2.5"/>
<circle cx="64.62" cy="600.90" r="2.5"/>
<circle cx="69.40" cy="600.90" r="2.5"/>
<circle cx="74.17" cy="605.20" r="2.5"/>
<circle cx="78.95" cy="603.70" r="2.5"/>
<circle cx="83.72" cy="601.20" r="2.5"/>
<circle cx="88.50" cy="601.20" r="2.5"/>
<circle cx="93.27" cy="595.60" r="2.5"/>
<circle cx="98.05" cy="598.60" r="2.5"/>
<circle cx="102.82" cy="595.40" r="2.5"/>
<circle cx="107.60" cy="592.90" r="2.5"/>
<circle cx="112.38" cy="597.60" r="2.5"/>
<circle cx="117.15" cy="596.90" r="2.5"/>
<circle cx="121.92" cy="599.10" r="2.5"/>
<circle cx="126.70" cy="594.40" r="2.5"/>
<circle cx="131.47" cy="590.90" r="2.5"/>
<circle cx="136.25" cy="594.40" r="2.5"/>
<circle cx="141.03" cy="590.60" r="2.5"/>
<circle cx="145.80" cy="580.10" r="2.5"/>
<circle cx="150.57" cy="569.50" r="2.5"/>
<circle cx="155.35" cy="550.70" r="2.5"/>
<circle cx="160.12" cy="538.60" r="2.5"/>
<circle cx="164.90" cy="534.10" r="2.5"/>
<circle cx="169.68" cy="518.70" r="2.5"/>
<circle cx="174.45" cy="489.30" r="2.5"/>
<circle cx="179.22" cy="475.50" r="2.5"/>
<circle cx="184.00" cy="468.50" r="2.5"/>
<circle cx="188.78" cy="468.00" r="2.5"/>
<circle cx="193.55" cy="474.70" r="2.5"/>
<circle cx="198.32" cy="470.20" r="2.5"/>
<circle cx="203.10" cy="483.00" r="2.5"/>
<circle cx="207.88" cy="508.40" r="2.5"/>
<circle cx="212.65" cy="528.50" r="2.5"/>
<circle cx="217.43" cy="535.80" r="2.5"/>
<circle cx="222.20" cy="540.90" r="2.5"/>
<circle cx="226.97" cy="545.60" r="2.5"/>
<circle cx="231.75" cy="558.90" r="2.5"/>
<circle cx="236.53" cy="557.40" r="2.5"/>
<circle cx="241.30" cy="561.70" r="2.5"/>
<circle cx="246.07" cy="564.50" r="2.5"/>
<circle cx="250.85" cy="567.50" r="2.5"/>
<circle cx="255.62" cy="569.70" r="2.5"/>
<circle cx="260.40" cy="572.30" r="2.5"/>
<circle cx="265.18" cy="574.00" r="2.5"/>
<circle cx="269.95" cy="577.80" r="2.5"/>
<circle cx="274.73" cy="575.30" r="2.5"/>
<circle cx="279.50" cy="571.50" r="2.5"/>
<circle cx="284.27" cy="567.50" r="2.5"/>
<circle cx="289.05" cy="566.70" r="2.5"/>
<circle cx="293.82" cy="568.50" r="2.5"/>
<circle cx="298.60" cy="561.20" r="2.5"/>
<circle cx="303.38" cy="565.20" r="2.5"/>
<circle cx="308.15" cy="571.00" r="2.5"/>
<circle cx="312.93" cy="573.00" r="2.5"/>
<circle cx="317.70" cy="574.50" r="2.5"/>
</g></g>
<path d="M50.30 629.30v2.5M83.72 629.30v2.5M117.15 629.30v2.5M150.57 629.30v2.5M184.00 629.30v2.5M217.43 629.30v2.5M250.85 629.30v2.5M284.27 629.30v2.5M317.70 629.30v2.5M37.00 614.20h-2.5M37.00 574.20h-2.5M37.00 534.20h-2.5M37.00 494.20h-2.5M37.00 454.20h-2.5M37.00 414.20h-2.5M37.00 374.20h-2.5" stroke="#000" stroke-width="0.7" fill="none"/>
<rect x="37.00" y="337.40" width="293.90" height="291.90" stroke="#000" stroke-width="0.7" fill="none"/>
<g font-size="8.5" text-anchor="middle">
<text x="50.30" y="640.80">−28</text>
<text x="83.72" y="640.80">−21</text>
<text x="117.15" y="640.80">−14</text>
<text x="150.57" y="640.80">−7</text>
<text x="184.00" y="640.80">0</text>
<text x="217.43" y="640.80">7</text>
<text x="250.85" y="640.80">14</text>
<text x="284.27" y="640.80">21</text>
<text x="317.70" y="640.80">28</text>
</g>
<g font-size="8.5" text-anchor="end">
<text x="32.30" y="617.60">0.1</text>
<text x="32.30" y="577.60">0.2</text>
<text x="32.30" y="537.60">0.3</text>
<text x="32.30" y="497.60">0.4</text>
<text x="32.30" y="457.60">0.5</text>
<text x="32.30" y="417.60">0.6</text>
<text x="32.30" y="377.60">0.7</text>
</g>
<text x="183.95" y="653.40" font-size="11.6" text-anchor="middle">Center of window</text>
<text transform="translate(14.10 483.35) rotate(-90)" font-size="11.6" text-anchor="middle">Probability (<tspan font-style="italic">N</tspan> ≥ 1)</text>
<text x="74.30" y="367.70" font-size="12" text-anchor="middle">(c)</text>
<rect x="234.00" y="343.00" width="91.30" height="37.50" rx="2.4" fill="#fff" fill-opacity="0.8" stroke="#ccc" stroke-opacity="0.8" stroke-width="0.8"/>
<circle cx="250.40" cy="353.20" r="2.7" fill="#ff0000"/>
<text x="271.30" y="357.35" font-size="11.5">Fever</text>
<circle cx="250.40" cy="370.20" r="2.7" fill="#000"/>
<text x="271.30" y="374.35" font-size="11.5">No fever</text>
<path d="M393.60 337.40V629.30M441.35 337.40V629.30M489.10 337.40V629.30M536.85 337.40V629.30M584.60 337.40V629.30M632.35 337.40V629.30M680.10 337.40V629.30M389.70 607.90H683.40M389.70 571.30H683.40M389.70 534.70H683.40M389.70 498.10H683.40M389.70 461.50H683.40M389.70 424.90H683.40M389.70 388.30H683.40M389.70 351.70H683.40" stroke="#606060" stroke-width="0.5" stroke-opacity="0.62" fill="none"/>
<path d="M393.60 337.40V629.30M441.35 337.40V629.30M489.10 337.40V629.30M536.85 337.40V629.30M584.60 337.40V629.30M632.35 337.40V629.30M680.10 337.40V629.30M389.70 607.90H683.40M389.70 571.30H683.40M389.70 534.70H683.40M389.70 498.10H683.40M389.70 461.50H683.40M389.70 424.90H683.40M389.70 388.30H683.40M389.70 351.70H683.40" stroke="#606060" stroke-width="0.5" stroke-opacity="0.38" stroke-dasharray="5.4 2.1" fill="none"/>
<g clip-path="url(#cd)">
<path d="M403.15 508.60V573.60M407.93 547.20V600.40M412.70 547.20V600.40M417.48 572.10V616.10M422.25 543.30V599.30M427.03 506.60V572.60M431.80 538.70V596.70M436.58 550.80V604.80M441.35 512.90V578.90M446.12 525.90V587.90M450.90 531.00V590.00M455.68 537.20V593.20M460.45 552.80V602.80M465.23 537.20V593.20M470.00 537.20V593.20M474.78 540.20V594.20M479.55 552.80V602.80M484.33 540.00V594.00M489.10 519.40V579.40M493.88 533.00V591.00M498.65 514.40V576.40M503.43 485.80V558.80M508.20 457.60V537.60M512.98 451.40V531.40M517.75 448.60V532.60M522.52 406.60V498.60M527.30 372.50V474.50M532.08 359.70V465.70M536.85 386.00V484.00M541.62 350.30V457.90M546.40 359.70V465.70M551.18 442.40V526.40M555.95 482.90V557.90M560.73 464.80V544.80M565.50 444.50V528.50M570.27 434.90V522.90M575.05 445.00V531.00M579.83 469.30V550.30M584.60 524.60V590.00M589.38 489.90V566.90M594.15 466.60V548.60M598.93 556.20V610.20M603.70 487.70V565.70M608.48 487.70V565.70M613.25 508.00V578.00M618.03 487.70V565.70M622.80 484.70V563.70M627.58 486.20V568.20M632.35 469.10V559.10M637.12 444.80V543.80M641.90 460.10V555.50M646.68 451.00V551.00M651.45 451.00V551.00M656.23 476.60V567.80M661.00 458.30V560.30M665.78 504.80V590.80M670.55 504.80V590.80" stroke="#008000" stroke-width="1" stroke-opacity="0.6" fill="none"/>
<polyline points="403.15,541.10 407.93,573.80 412.70,573.80 417.48,594.10 422.25,571.30 427.03,539.60 431.80,567.70 436.58,577.80 441.35,545.90 446.12,556.90 450.90,560.50 455.68,565.20 460.45,577.80 465.23,565.20 470.00,565.20 474.78,567.20 479.55,577.80 484.33,567.00 489.10,549.40 493.88,562.00 498.65,545.40 503.43,522.30 508.20,497.60 512.98,491.40 517.75,490.60 522.52,452.60 527.30,423.50 532.08,412.70 536.85,435.00 541.62,404.10 546.40,412.70 551.18,484.40 555.95,520.40 560.73,504.80 565.50,486.50 570.27,478.90 575.05,488.00 579.83,509.80 584.60,557.30 589.38,528.40 594.15,507.60 598.93,583.20 603.70,526.70 608.48,526.70 613.25,543.00 618.03,526.70 622.80,524.20 627.58,527.20 632.35,514.10 637.12,494.30 641.90,507.80 646.68,501.00 651.45,501.00 656.23,522.20 661.00,509.30 665.78,547.80 670.55,547.80" stroke="#008000" stroke-width="0.4" stroke-dasharray="1.5 0.8" stroke-opacity="0.5" fill="none"/>
<g fill="#008000">
<circle cx="403.15" cy="541.10" r="2.7"/>
<circle cx="407.93" cy="573.80" r="2.7"/>
<circle cx="412.70" cy="573.80" r="2.7"/>
<circle cx="417.48" cy="594.10" r="2.7"/>
<circle cx="422.25" cy="571.30" r="2.7"/>
<circle cx="427.03" cy="539.60" r="2.7"/>
<circle cx="431.80" cy="567.70" r="2.7"/>
<circle cx="436.58" cy="577.80" r="2.7"/>
<circle cx="441.35" cy="545.90" r="2.7"/>
<circle cx="446.12" cy="556.90" r="2.7"/>
<circle cx="450.90" cy="560.50" r="2.7"/>
<circle cx="455.68" cy="565.20" r="2.7"/>
<circle cx="460.45" cy="577.80" r="2.7"/>
<circle cx="465.23" cy="565.20" r="2.7"/>
<circle cx="470.00" cy="565.20" r="2.7"/>
<circle cx="474.78" cy="567.20" r="2.7"/>
<circle cx="479.55" cy="577.80" r="2.7"/>
<circle cx="484.33" cy="567.00" r="2.7"/>
<circle cx="489.10" cy="549.40" r="2.7"/>
<circle cx="493.88" cy="562.00" r="2.7"/>
<circle cx="498.65" cy="545.40" r="2.7"/>
<circle cx="503.43" cy="522.30" r="2.7"/>
<circle cx="508.20" cy="497.60" r="2.7"/>
<circle cx="512.98" cy="491.40" r="2.7"/>
<circle cx="517.75" cy="490.60" r="2.7"/>
<circle cx="522.52" cy="452.60" r="2.7"/>
<circle cx="527.30" cy="423.50" r="2.7"/>
<circle cx="532.08" cy="412.70" r="2.7"/>
<circle cx="536.85" cy="435.00" r="2.7"/>
<circle cx="541.62" cy="404.10" r="2.7"/>
<circle cx="546.40" cy="412.70" r="2.7"/>
<circle cx="551.18" cy="484.40" r="2.7"/>
<circle cx="555.95" cy="520.40" r="2.7"/>
<circle cx="560.73" cy="504.80" r="2.7"/>
<circle cx="565.50" cy="486.50" r="2.7"/>
<circle cx="570.27" cy="478.90" r="2.7"/>
<circle cx="575.05" cy="488.00" r="2.7"/>
<circle cx="579.83" cy="509.80" r="2.7"/>
<circle cx="584.60" cy="557.30" r="2.7"/>
<circle cx="589.38" cy="528.40" r="2.7"/>
<circle cx="594.15" cy="507.60" r="2.7"/>
<circle cx="598.93" cy="583.20" r="2.7"/>
<circle cx="603.70" cy="526.70" r="2.7"/>
<circle cx="608.48" cy="526.70" r="2.7"/>
<circle cx="613.25" cy="543.00" r="2.7"/>
<circle cx="618.03" cy="526.70" r="2.7"/>
<circle cx="622.80" cy="524.20" r="2.7"/>
<circle cx="627.58" cy="527.20" r="2.7"/>
<circle cx="632.35" cy="514.10" r="2.7"/>
<circle cx="637.12" cy="494.30" r="2.7"/>
<circle cx="641.90" cy="507.80" r="2.7"/>
<circle cx="646.68" cy="501.00" r="2.7"/>
<circle cx="651.45" cy="501.00" r="2.7"/>
<circle cx="656.23" cy="522.20" r="2.7"/>
<circle cx="661.00" cy="509.30" r="2.7"/>
<circle cx="665.78" cy="547.80" r="2.7"/>
<circle cx="670.55" cy="547.80" r="2.7"/>
</g></g>
<path d="M393.60 629.30v2.5M441.35 629.30v2.5M489.10 629.30v2.5M536.85 629.30v2.5M584.60 629.30v2.5M632.35 629.30v2.5M680.10 629.30v2.5M389.70 607.90h-2.5M389.70 571.30h-2.5M389.70 534.70h-2.5M389.70 498.10h-2.5M389.70 461.50h-2.5M389.70 424.90h-2.5M389.70 388.30h-2.5M389.70 351.70h-2.5" stroke="#000" stroke-width="0.7" fill="none"/>
<rect x="389.70" y="337.40" width="293.70" height="291.90" stroke="#000" stroke-width="0.7" fill="none"/>
<g font-size="8.5" text-anchor="middle">
<text x="393.60" y="640.80">−30</text>
<text x="441.35" y="640.80">−20</text>
<text x="489.10" y="640.80">−10</text>
<text x="536.85" y="640.80">0</text>
<text x="584.60" y="640.80">10</text>
<text x="632.35" y="640.80">20</text>
<text x="680.10" y="640.80">30</text>
</g>
<g font-size="8.5" text-anchor="end">
<text x="385.00" y="611.30">0.05</text>
<text x="385.00" y="574.70">0.10</text>
<text x="385.00" y="538.10">0.15</text>
<text x="385.00" y="501.50">0.20</text>
<text x="385.00" y="464.90">0.25</text>
<text x="385.00" y="428.30">0.30</text>
<text x="385.00" y="391.70">0.35</text>
<text x="385.00" y="355.10">0.40</text>
</g>
<text x="536.55" y="653.40" font-size="11.6" text-anchor="middle">Center of window</text>
<text transform="translate(361.00 483.35) rotate(-90)" font-size="11.6" text-anchor="middle">Probability (<tspan font-style="italic">N</tspan> ≥ 1)</text>
<text x="421.40" y="367.70" font-size="12" text-anchor="middle">(d)</text>
<rect x="552.20" y="342.60" width="125.90" height="20.80" rx="2.4" fill="#fff" fill-opacity="0.8" stroke="#ccc" stroke-opacity="0.8" stroke-width="0.8"/>
<circle cx="568.80" cy="353.10" r="2.7" fill="#008000"/>
<text x="590.00" y="357.25" font-size="11.5">Asymptomatic</text>
</svg>
</body></html>
